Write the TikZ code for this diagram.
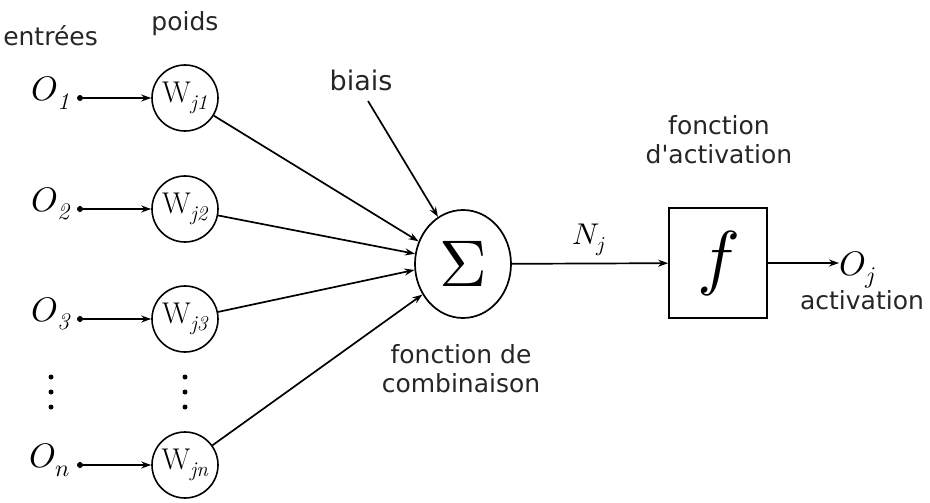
\documentclass[tikz,border=0pt]{standalone}
\usepackage{fontspec}
\usepackage{unicode-math}
\newfontfamily\dv{DejaVu Sans}
\usetikzlibrary{arrows.meta,shapes.geometric}
\begin{document}
\begin{tikzpicture}[x=1pt,y=-1pt,
  arr/.style={line width=1.7pt,-{Stealth[length=10pt,width=7pt]}},
  wnode/.style={draw,line width=1.6pt,circle,minimum size=66pt,inner sep=0pt,font=\fontsize{30}{30}\selectfont},
  lbl/.style={font=\dv\fontsize{25}{29}\selectfont,align=center,text=black!85,inner sep=0pt},
  inp/.style={font=\fontsize{34}{34}\selectfont,inner sep=0pt},
  dotn/.style={circle,fill,inner sep=0pt,minimum size=6pt},
  vdot/.style={circle,fill,inner sep=0pt,minimum size=5pt}]
\useasboundingbox (0,0) rectangle (930,503);

% header labels
\node[lbl,anchor=east] (entrees) at (98,36) {entrées};
\node[lbl] (poids) at (185,24) {poids};

% inputs
\node[inp,anchor=east] (O1) at (70,93) {$O_{\mathit{1}}$};
\node[inp,anchor=east] (O2) at (70,204) {$O_{\mathit{2}}$};
\node[inp,anchor=east] (O3) at (70,314) {$O_{\mathit{3}}$};
\node[inp,anchor=east] (On) at (70,460) {$O_{n}$};

\node[dotn] (d1) at (80,98) {};
\node[dotn] (d2) at (80,209) {};
\node[dotn] (d3) at (80,319) {};
\node[dotn] (dn) at (80,465) {};

% weights
\node[wnode] (W1) at (185,98) {$\mathrm{W}_{\mathit{j1}}$};
\node[wnode] (W2) at (185,209) {$\mathrm{W}_{\mathit{j2}}$};
\node[wnode] (W3) at (185,319) {$\mathrm{W}_{\mathit{j3}}$};
\node[wnode] (Wn) at (185,465) {$\mathrm{W}_{\mathit{jn}}$};

% vertical dots
\node[vdot] (la) at (51,377) {};
\node[vdot] (lb) at (51,392) {};
\node[vdot] (lc) at (51,407) {};
\node[vdot] (ma) at (185,377) {};
\node[vdot] (mb) at (185,392) {};
\node[vdot] (mc) at (185,407) {};

\draw[arr] (d1) -- (W1);
\draw[arr] (d2) -- (W2);
\draw[arr] (d3) -- (W3);
\draw[arr] (dn) -- (Wn);

% summation
\node[draw,line width=1.7pt,ellipse,minimum width=96pt,minimum height=108pt,inner sep=0pt,
      font=\fontsize{66}{66}\selectfont] (S) at (463,264) {$\Sigma$};

\draw[arr] (W1) -- (S.153);
\draw[arr] (W2) -- (S.168);
\draw[arr] (W3) -- (S.187);
\draw[arr] (Wn) -- (S.217);

% bias
\node[lbl,font=\dv\fontsize{27}{30}\selectfont] (biais) at (361,80) {biais};
\coordinate (b0) at (368,101);
\draw[arr] (b0) -- (S.118);

\node[lbl] (comb) at (461,369) {fonction de\\combinaison};

% activation
\node[draw,line width=1.7pt,minimum width=98pt,minimum height=110pt,inner sep=0pt,
      font=\fontsize{72}{72}\selectfont] (F) at (718,263) {$f$};
\node[lbl] (act) at (719,140) {fonction\\d'activation};

\draw[arr] (S) -- (F);
\node[font=\fontsize{30}{30}\selectfont,inner sep=0pt] (Nj) at (589,240) {$N_j$};

\node[inp,anchor=west] (Oj) at (839,270) {$O_j$};
\draw[arr] (F) -- (F -| Oj.west);
\node[lbl] (activ) at (862,300) {activation};
\end{tikzpicture}
\end{document}
